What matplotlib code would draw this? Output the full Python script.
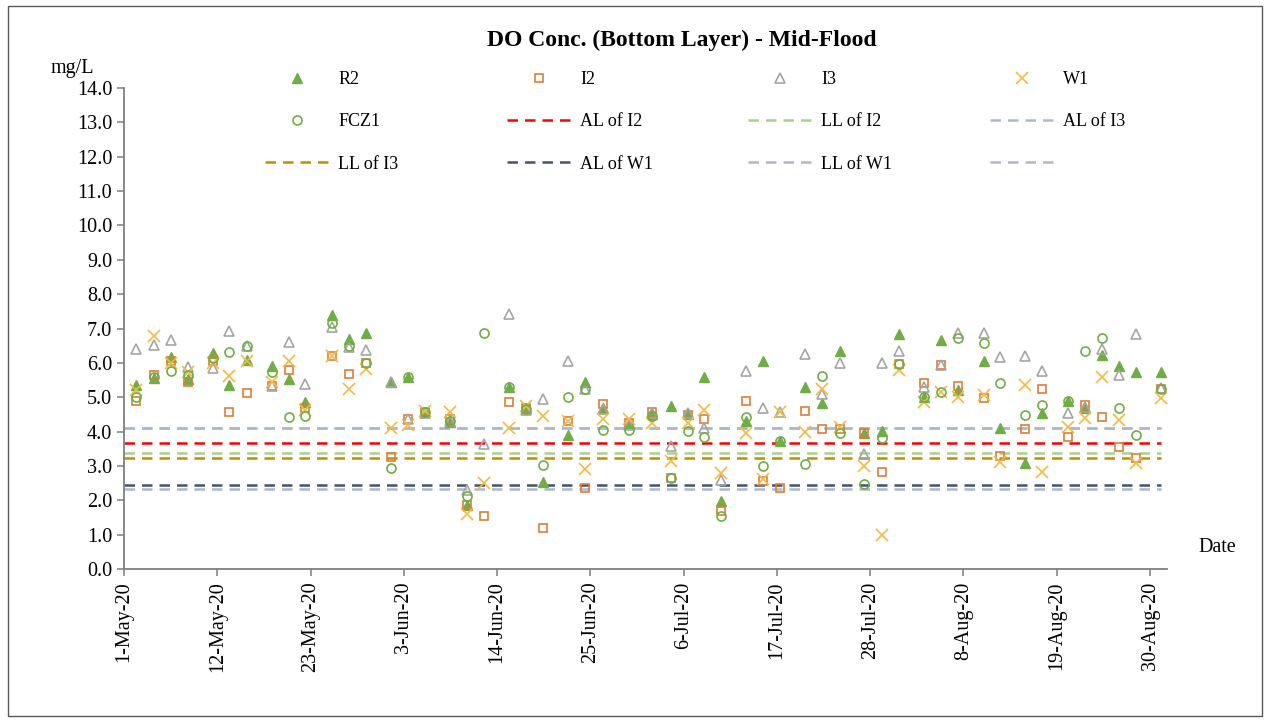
import datetime as dt
import numpy as np
import matplotlib
matplotlib.use("Agg")
import matplotlib.pyplot as plt
from matplotlib.patches import Rectangle

plt.rcParams['font.family'] = ['Liberation Serif', 'DejaVu Serif']

START = dt.datetime(2020, 5, 1)
nan = np.nan

# sampling times (days after 1-May-20, incl. time of mid-flood)
sample_days = [1.4, 3.5, 5.5, 7.5, 10.5, 12.4, 14.5, 17.5, 19.5, 21.4,
               24.5, 26.5, 28.5, 31.5, 33.5, 35.5, 38.4, 40.4, 42.4, 45.4,
               47.4, 49.4, 52.4, 54.4, 56.5, 59.5, 62.3, 64.5, 66.5, 68.4,
               70.4, 73.4, 75.4, 77.4, 80.3, 82.3, 84.4, 87.3, 89.4, 91.4,
               94.3, 96.4, 98.4, 101.4, 103.3, 106.3, 108.3, 111.3, 113.3, 115.3,
               117.3, 119.3, 122.3]

R2 = [5.36, 5.55, 6.16, 5.52, 6.28, 5.36, 6.08, 5.91, 5.53, 4.85,
      7.39, 6.68, 6.86, 5.45, 5.58, 4.58, 4.28, 1.86, nan, 5.29,
      4.70, 2.54, 3.90, 5.45, 4.68, 4.25, 4.50, 4.75, 4.50, 5.58,
      1.98, 4.32, 6.06, 3.72, 5.31, 4.82, 6.35, 3.97, 4.03, 6.84,
      5.02, 6.66, 5.21, 6.06, 4.09, 3.09, 4.53, 4.88, 4.70, 6.23,
      5.91, 5.72, 5.72]
I2 = [4.90, 5.65, 6.05, 5.45, 6.05, 4.56, 5.11, 5.33, 5.80, 4.68,
      6.21, 5.67, 5.99, 3.27, 4.38, 4.58, 4.38, 1.86, 1.54, 4.85,
      4.70, 1.20, 4.31, 2.37, 4.80, 4.26, 4.58, 2.66, 4.48, 4.38,
      1.69, 4.90, 2.56, 2.37, 4.60, 4.07, 4.07, 3.97, 2.81, 5.97,
      5.40, 5.94, 5.34, 4.97, 3.30, 4.07, 5.24, 3.85, 4.76, 4.42,
      3.56, 3.22, 5.24]
I3 = [6.39, 6.52, 6.66, 5.89, 5.86, 6.93, 6.50, 5.33, 6.62, 5.38,
      7.05, 6.47, 6.37, 5.45, 4.38, 4.55, 4.30, 2.30, 3.64, 7.41,
      4.62, 4.95, 6.06, 5.23, 4.65, 4.20, 4.55, 3.59, 4.55, 4.11,
      2.59, 5.76, 4.69, 4.58, 6.26, 5.08, 5.99, 3.35, 5.99, 6.35,
      5.31, 5.94, 6.86, 6.86, 6.16, 6.20, 5.77, 4.53, 4.72, 6.39,
      5.65, 6.84, 5.28]
W1 = [5.21, 6.78, 6.00, 5.74, 6.00, 5.62, 6.05, 5.45, 6.04, 4.64,
      6.21, 5.24, 5.81, 4.11, 4.19, 4.60, 4.57, 1.60, 2.51, 4.11,
      4.75, 4.46, 4.30, 2.90, 4.36, 4.37, 4.26, 3.14, 4.24, 4.63,
      2.79, 3.97, 2.61, 4.58, 4.00, 5.23, 4.14, 3.01, 0.99, 5.79,
      4.87, 5.16, 5.00, 5.06, 3.12, 5.36, 2.81, 4.14, 4.40, 5.60,
      4.34, 3.08, 4.98]
FCZ1 = [5.00, 5.60, 5.76, 5.65, 6.15, 6.31, 6.50, 5.74, 4.41, 4.45,
        7.17, 6.50, 5.99, 2.93, 5.60, 4.58, 4.30, 2.13, 6.88, 5.29,
        4.65, 3.03, 5.00, 5.25, 4.04, 4.04, 4.45, 2.64, 4.02, 3.85,
        1.54, 4.41, 3.00, 3.72, 3.05, 5.63, 3.95, 2.47, 3.82, 5.97,
        5.00, 5.16, 6.71, 6.57, 5.42, 4.48, 4.77, 4.89, 6.34, 6.71,
        4.70, 3.90, 5.24]

# action / limit levels
AL_I2, LL_I2 = 3.66, 3.37
AL_I3, LL_I3 = 4.11, 3.22
AL_W1, LL_W1 = 2.44, 2.32

dates = [START + dt.timedelta(days=d) for d in sample_days]
line_x = [START, dates[-1]]

fig = plt.figure(figsize=(12.7, 7.22), dpi=100)
ax = fig.add_axes([124 / 1270, 1 - 569 / 722, (1167 - 124) / 1270, (569 - 88) / 722])

dash = dict(lw=1.8, linestyle=(0, (4.2, 2.8)))
h_al_i3, = ax.plot(line_x, [AL_I3] * 2, color='#ADB9CA', label='AL of I3', **dash)
h_blank, = ax.plot(line_x, [AL_I3] * 2, color='#ADB9CA', label=' ', **dash)
h_al_i2, = ax.plot(line_x, [AL_I2] * 2, color='#FF0000', label='AL of I2', **dash)
h_ll_i2, = ax.plot(line_x, [LL_I2] * 2, color='#A9D18E', label='LL of I2', **dash)
h_ll_i3, = ax.plot(line_x, [LL_I3] * 2, color='#BF9000', label='LL of I3', **dash)
h_al_w1, = ax.plot(line_x, [AL_W1] * 2, color='#44546A', label='AL of W1', **dash)
h_ll_w1, = ax.plot(line_x, [LL_W1] * 2, color='#ADB9CA', label='LL of W1', **dash)

h_r2, = ax.plot(dates, R2, ls='none', marker='^', ms=7.5, color='#70AD47', label='R2')
h_i2, = ax.plot(dates, I2, ls='none', marker='s', ms=6, mfc='none', mec='#E07B39', mew=1.2, label='I2')
h_i3, = ax.plot(dates, I3, ls='none', marker='^', ms=7.5, mfc='none', mec='#A5A5A5', mew=1.2, label='I3')
h_w1, = ax.plot(dates, W1, ls='none', marker='x', ms=8.5, mec='#F4B942', mew=1.2, label='W1')
h_fcz1, = ax.plot(dates, FCZ1, ls='none', marker='o', ms=6.5, mfc='none', mec='#70AD47', mew=1.2, label='FCZ1')

ax.set_ylim(0, 14)
ax.set_yticks(np.arange(0, 14.01, 1.0))
ax.set_yticklabels([f"{v:.1f}" for v in np.arange(0, 14.01, 1.0)])
ax.set_xlim(START, START + dt.timedelta(days=123))
xt = [START + dt.timedelta(days=11 * k) for k in range(12)]
ax.set_xticks(xt)
ax.set_xticklabels([f"{d.day}-{d:%b-%y}" for d in xt], rotation=90)

for s in ['top', 'right']:
    ax.spines[s].set_visible(False)
for s in ['left', 'bottom']:
    ax.spines[s].set_color('#7F7F7F')
    ax.spines[s].set_linewidth(1.3)
ax.tick_params(axis='both', direction='out', length=5, width=1.1, color='#7F7F7F',
               labelsize=14.5, labelcolor='black')
ax.tick_params(axis='x', pad=4)

# legend: Excel lays entries out row by row on a fixed grid,
# so draw one single-column legend per grid column
legend_cols = [[h_r2, h_fcz1, h_ll_i3],
               [h_i2, h_al_i2, h_al_w1],
               [h_i3, h_ll_i2, h_ll_w1],
               [h_w1, h_al_i3, h_blank]]
col_x = [265, 507, 748, 990]
for hs, x0 in zip(legend_cols, col_x):
    leg = fig.legend(handles=hs, labels=[h.get_label() for h in hs],
                     loc='upper left', bbox_to_anchor=(x0 / 1270, 1 - 71 / 722),
                     frameon=False, fontsize=13, handlelength=3.5, handletextpad=0.55,
                     labelspacing=1.4, borderaxespad=0, borderpad=0)

fig.text(682 / 1270, 1 - 40 / 722, 'DO Conc. (Bottom Layer) - Mid-Flood',
         ha='center', va='center', fontsize=17, fontweight='bold')
fig.text(72 / 1270, 1 - 68 / 722, 'mg/L', ha='center', va='center', fontsize=14.5)
fig.text(1217 / 1270, 1 - 547 / 722, 'Date', ha='center', va='center', fontsize=14.5)

fig.patches.append(Rectangle((8 / 1270, 6 / 722), 1254 / 1270, 710 / 722,
                             transform=fig.transFigure, fill=False,
                             edgecolor='#595959', lw=1.0))

fig.savefig('out.png', dpi=100)
